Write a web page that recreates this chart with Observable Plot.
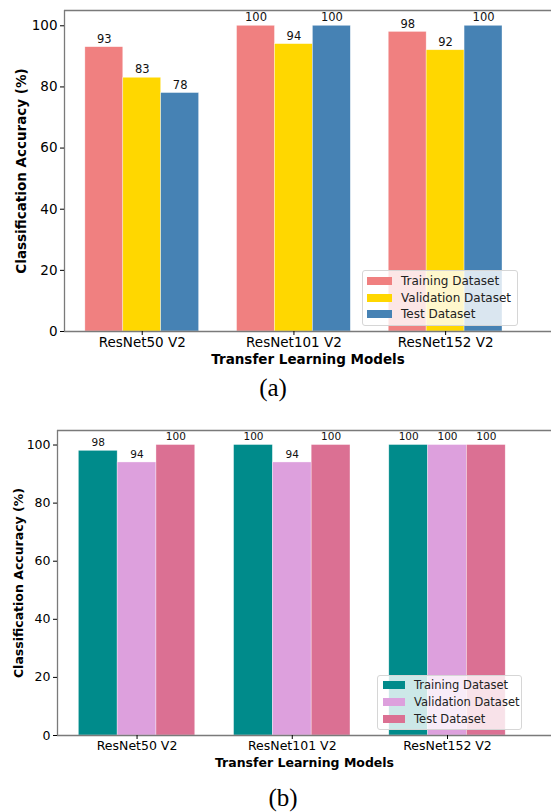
<!DOCTYPE html>
<html>
<head>
<meta charset="utf-8">
<script src="https://cdn.jsdelivr.net/npm/d3@7"></script>
<script src="https://cdn.jsdelivr.net/npm/@observablehq/plot@0.6"></script>
<style>
  html, body { margin: 0; padding: 0; background: #fff; }
  #page { position: relative; width: 551px; height: 812px; overflow: hidden; background: #fff; font-family: "DejaVu Sans", sans-serif; }
  .chart { position: absolute; left: 0; }
  .chart svg { display: block; overflow: visible; }
  .caption { position: absolute; font-family: "Liberation Serif", "Times New Roman", serif; font-size: 25px; color: #000; transform: translate(-50%, -50%); }
  .legend { position: absolute; background: rgba(255,255,255,0.8); border: 1px solid #d6d6d6; border-radius: 3px; box-sizing: border-box; }
  .legend .row { position: absolute; left: 0; display: flex; align-items: center; white-space: nowrap; color: #222; }
  .legend .sw { display: inline-block; }
  g[aria-label="x-axis label"] text, g[aria-label="y-axis label"] text { font-weight: bold; }
</style>
</head>
<body>
<div id="page"></div>
<script>
// ---- data ----
const models = ["ResNet50 V2", "ResNet101 V2", "ResNet152 V2"];
const datasets = ["Training Dataset", "Validation Dataset", "Test Dataset"];
const yTicks = [0, 20, 40, 60, 80, 100];

// (a)
const trainA = [93, 100, 98];
const valA   = [83, 94, 92];
const testA  = [78, 100, 100];
const colorsA = ["#F08080", "#FFD700", "#4682B4"];

// (b)
const trainB = [98, 100, 100];
const valB   = [94, 94, 100];
const testB  = [100, 100, 100];
const colorsB = ["#008B8B", "#DDA0DD", "#DB7093"];

const xLabel = "Transfer Learning Models";
const yLabel = "Classification Accuracy (%)";

function rowsOf(series) {
  const rows = [];
  models.forEach((m, i) => {
    series.forEach((s, j) => rows.push({model: m, dataset: datasets[j], i, j, value: s[i]}));
  });
  return rows;
}

const barW = 0.25;
const xOf = d => d.i + (d.j - 1) * barW;

function makeChart(cfg) {
  const rows = rowsOf(cfg.series);
  const xMin = -0.5125;
  return Plot.plot({
    width: 551,
    height: cfg.height,
    marginTop: cfg.marginTop,
    marginBottom: cfg.marginBottom,
    marginLeft: cfg.marginLeft,
    marginRight: 0,
    style: {fontFamily: "DejaVu Sans", color: "#000", background: "transparent"},
    x: {domain: [xMin, cfg.xMax]},
    y: {domain: [0, 105]},
    color: {domain: datasets, range: cfg.colors},
    marks: [
      Plot.rectY(rows, {
        x1: d => xOf(d) - barW / 2,
        x2: d => xOf(d) + barW / 2,
        y: "value",
        fill: "dataset",
        stroke: "white",
        strokeWidth: 0.6,
        strokeOpacity: 0.6,
        inset: 0
      }),
      Plot.text(rows, {
        x: xOf, y: "value", text: d => String(d.value),
        dy: -8, fontSize: cfg.valueFont, fill: "#111"
      }),
      Plot.ruleY([0, 105], {stroke: "#7a7a7a", strokeWidth: 1.3}),
      Plot.ruleX([xMin], {stroke: "#7a7a7a", strokeWidth: 1.3}),
      Plot.axisX({
        ticks: [0, 1, 2], tickFormat: i => models[i], tickSize: 4, tickPadding: 2,
        fontSize: cfg.tickFont, label: xLabel, labelAnchor: "center", labelArrow: "none",
        labelOffset: cfg.xLabelOffset
      }),
      Plot.axisY({
        ticks: yTicks, tickSize: 4, tickPadding: 3, fontSize: cfg.tickFont,
        label: yLabel, labelAnchor: "center", labelArrow: "none",
        labelOffset: cfg.yLabelOffset
      })
    ]
  });
}

function addLegend(page, cfg) {
  const box = document.createElement("div");
  box.className = "legend";
  Object.assign(box.style, {left: cfg.left + "px", top: cfg.top + "px", width: cfg.w + "px", height: cfg.h + "px"});
  datasets.forEach((name, j) => {
    const row = document.createElement("div");
    row.className = "row";
    row.style.top = (cfg.firstRow + j * cfg.rowStep - cfg.top - 8) + "px";
    row.style.height = "16px";
    row.style.fontSize = cfg.font + "px";
    const sw = document.createElement("span");
    sw.className = "sw";
    Object.assign(sw.style, {background: cfg.colors[j], width: cfg.swW + "px", height: "8px", marginLeft: cfg.swLeft + "px", marginRight: cfg.gap + "px"});
    const tx = document.createElement("span");
    tx.textContent = name;
    row.appendChild(sw);
    row.appendChild(tx);
    box.appendChild(row);
  });
  page.appendChild(box);
}

const page = document.getElementById("page");

// chart (a)
const divA = document.createElement("div");
divA.className = "chart"; divA.style.top = "0px";
divA.appendChild(makeChart({
  series: [trainA, valA, testA], colors: colorsA,
  height: 370, marginTop: 10, marginBottom: 39, marginLeft: 64, xMax: 2.698,
  tickFont: 13.5, valueFont: 11.5, xLabelOffset: 32, yLabelOffset: 48
}));
page.appendChild(divA);
addLegend(page, {left: 362, top: 270, w: 156, h: 56, firstRow: 280, rowStep: 16.5, font: 12, colors: colorsA, swW: 25, swLeft: 4, gap: 9});

const capA = document.createElement("div");
capA.className = "caption"; capA.textContent = "(a)";
Object.assign(capA.style, {left: "273px", top: "388px"});
page.appendChild(capA);

// chart (b)
const divB = document.createElement("div");
divB.className = "chart"; divB.style.top = "420px";
divB.appendChild(makeChart({
  series: [trainB, valB, testB], colors: colorsB,
  height: 360, marginTop: 10, marginBottom: 45, marginLeft: 57, xMax: 2.670,
  tickFont: 12.5, valueFont: 10.5, xLabelOffset: 31, yLabelOffset: 43
}));
page.appendChild(divB);
addLegend(page, {left: 377, top: 675, w: 145, h: 55, firstRow: 684, rowStep: 17, font: 11.5, colors: colorsB, swW: 22, swLeft: 5, gap: 9});

const capB = document.createElement("div");
capB.className = "caption"; capB.textContent = "(b)";
Object.assign(capB.style, {left: "283px", top: "798px"});
page.appendChild(capB);
</script>
</body>
</html>
